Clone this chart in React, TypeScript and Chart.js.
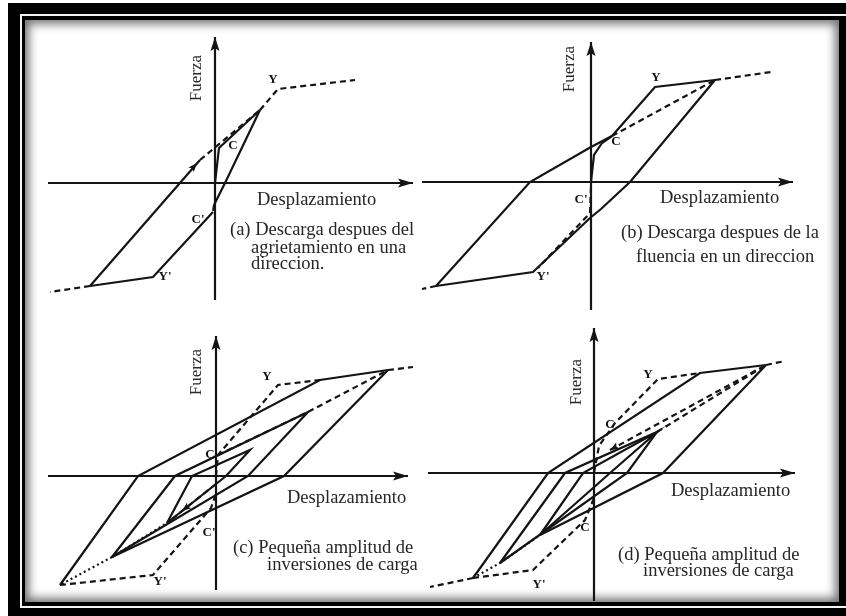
import React, { useEffect, useRef } from "react";
import { Chart, registerables } from "chart.js";

Chart.register(...registerables);

type Pt = [number, number];
type PanelId = "a" | "b" | "c" | "d";

// ---------------- data (panel-local units: displacement, force) ----------------
// Panel (a)
const A_AXIS_X: Pt[] = [[-167, 0], [198, 0]];
const A_AXIS_Y: Pt[] = [[0, -117], [0, 146]];
const A_LOAD: Pt[] = [[0, 0], [4, 35], [45, 73]];
const A_UNLOAD: Pt[] = [[45, 73], [10, 0], [-1, -22]];
const A_CRACK_NEG: Pt[] = [[-1, -22], [-2, -29]];
const A_NEG: Pt[] = [[-2, -29], [-62, -94], [-125, -103]];
const A_ENV_NEG: Pt[] = [[-125, -103], [-165, -109]];
const A_RELOAD: Pt[] = [[-125, -103], [-15, 23]];
const A_RELOAD_D: Pt[] = [[-15, 23], [45, 73]];
const A_ENV_POS: Pt[] = [[45, 73], [63, 94], [140, 103]];

// Panel (b)
const B_AXIS_X: Pt[] = [[-169, 0], [202, 0]];
const B_AXIS_Y: Pt[] = [[0, -128], [0, 140]];
const B_LOAD: Pt[] = [[0, 0], [3, 27], [11, 39], [21, 46]];
const B_C_PEAK: Pt[] = [[21, 46], [124, 102]];
const B_C_Y_PEAK: Pt[] = [[21, 46], [64, 95], [124, 102]];
const B_ENV_POS: Pt[] = [[124, 102], [180, 110]];
const B_UNLOAD: Pt[] = [[124, 102], [39, 0], [10, -27], [-1, -36], [-58, -90], [-155, -104]];
const B_ENV_NEG: Pt[] = [[-155, -104], [-169, -107]];
const B_RELOAD: Pt[] = [[-155, -104], [-61, 0], [0, 35], [21, 46]];
const B_NEG_INIT: Pt[] = [[0, -5], [-1, -31], [-53, -86]];

// Panel (c)
const C_AXIS_X: Pt[] = [[-168, 0], [192, 0]];
const C_AXIS_Y: Pt[] = [[0, -114], [0, 140]];
const C_OUTER_UP: Pt[] = [[-156, -109], [-78, 0], [104, 96], [172, 106]];
const C_ENV_POS: Pt[] = [[172, 106], [197, 109]];
const C_OUTER_DOWN: Pt[] = [[172, 106], [68, 0], [-104, -81]];
const C_DOT_1: Pt[] = [[-104, -81], [-156, -109]];
const C_ENV_NEG: Pt[] = [[-156, -109], [-63, -99], [-5, -32], [0, -18]];
const C_INIT: Pt[] = [[0, 0], [2, 21], [62, 91], [104, 96]];
const C_C_PEAKS: Pt[] = [[2, 21], [92, 64], [172, 106]];
const C_MID: Pt[] = [[-104, -81], [-41, 0], [92, 64], [32, 0], [-104, -81]];
const C_INNER: Pt[] = [[-49, -47], [-24, 0], [34, 26], [10, 0], [-49, -47]];
const C_DOT_2: Pt[] = [[-104, -81], [-49, -47]];
const C_ARROW: Pt[] = [[0, -8], [-49, -47]];

// Panel (d)
const D_AXIS_X: Pt[] = [[-166, 0], [201, 0]];
const D_AXIS_Y: Pt[] = [[0, -128], [0, 145]];
const D_OUTER_UP: Pt[] = [[-121, -105], [-46, 0], [106, 100], [172, 108]];
const D_ENV_POS: Pt[] = [[172, 108], [191, 112]];
const D_ENV_NEG: Pt[] = [[-121, -105], [-164, -114]];
const D_NEG_INIT: Pt[] = [[-121, -105], [-61, -97], [-9, -47], [0, -25]];
const D_INIT: Pt[] = [[0, 0], [5, 27], [21, 50], [64, 94], [106, 100]];
const D_RELOAD_1: Pt[] = [[16, 23], [172, 108]];
const D_RELOAD_2: Pt[] = [[63, 41], [172, 108]];
const D_OUTER_DOWN: Pt[] = [[172, 108], [69, 0], [-54, -62]];
const D_MID: Pt[] = [[-94, -90], [-29, 0], [63, 41], [33, 0], [-94, -90]];
const D_INNER: Pt[] = [[-54, -62], [-11, 0], [63, 41], [16, 0], [-54, -62]];
const D_DOT: Pt[] = [[-121, -105], [-94, -90], [-54, -62]];

// Texts
const AXIS_Y_TITLE = "Fuerza";
const AXIS_X_TITLE = "Desplazamiento";
const CAPTION_A = ["(a) Descarga despues del", "agrietamiento en una", "direccion."];
const CAPTION_B = ["(b) Descarga despues de la", "fluencia en un direccion"];
const CAPTION_C = ["(c) Pequeña amplitud de", "inversiones de carga"];
const CAPTION_D = ["(d) Pequeña amplitud de", "inversiones de carga"];

// ---------------- layout (page pixel of each panel's origin) ----------------
const W = 846;
const H = 616;
const ORIGIN: Record<PanelId, [number, number]> = {
  a: [215, 183],
  b: [591, 182],
  c: [216, 476],
  d: [594, 473],
};

type Style = "solid" | "dash" | "dot";
type LineSpec = { p: PanelId; pts: Pt[]; s: Style };

const LINES: LineSpec[] = [
  { p: "a", pts: A_AXIS_X, s: "solid" },
  { p: "a", pts: A_AXIS_Y, s: "solid" },
  { p: "a", pts: A_LOAD, s: "solid" },
  { p: "a", pts: A_UNLOAD, s: "solid" },
  { p: "a", pts: A_CRACK_NEG, s: "dash" },
  { p: "a", pts: A_NEG, s: "solid" },
  { p: "a", pts: A_ENV_NEG, s: "dash" },
  { p: "a", pts: A_RELOAD, s: "solid" },
  { p: "a", pts: A_RELOAD_D, s: "dash" },
  { p: "a", pts: A_ENV_POS, s: "dash" },

  { p: "b", pts: B_AXIS_X, s: "solid" },
  { p: "b", pts: B_AXIS_Y, s: "solid" },
  { p: "b", pts: B_LOAD, s: "solid" },
  { p: "b", pts: B_C_PEAK, s: "dash" },
  { p: "b", pts: B_C_Y_PEAK, s: "solid" },
  { p: "b", pts: B_ENV_POS, s: "dash" },
  { p: "b", pts: B_UNLOAD, s: "solid" },
  { p: "b", pts: B_ENV_NEG, s: "dash" },
  { p: "b", pts: B_RELOAD, s: "solid" },
  { p: "b", pts: B_NEG_INIT, s: "dash" },

  { p: "c", pts: C_AXIS_X, s: "solid" },
  { p: "c", pts: C_AXIS_Y, s: "solid" },
  { p: "c", pts: C_OUTER_UP, s: "solid" },
  { p: "c", pts: C_ENV_POS, s: "dash" },
  { p: "c", pts: C_OUTER_DOWN, s: "solid" },
  { p: "c", pts: C_DOT_1, s: "dot" },
  { p: "c", pts: C_ENV_NEG, s: "dash" },
  { p: "c", pts: C_INIT, s: "dash" },
  { p: "c", pts: C_C_PEAKS, s: "dash" },
  { p: "c", pts: C_MID, s: "solid" },
  { p: "c", pts: C_INNER, s: "solid" },
  { p: "c", pts: C_DOT_2, s: "dot" },
  { p: "c", pts: C_ARROW, s: "dash" },

  { p: "d", pts: D_AXIS_X, s: "solid" },
  { p: "d", pts: D_AXIS_Y, s: "solid" },
  { p: "d", pts: D_OUTER_UP, s: "solid" },
  { p: "d", pts: D_ENV_POS, s: "dash" },
  { p: "d", pts: D_ENV_NEG, s: "dash" },
  { p: "d", pts: D_NEG_INIT, s: "dash" },
  { p: "d", pts: D_INIT, s: "dash" },
  { p: "d", pts: D_RELOAD_1, s: "dash" },
  { p: "d", pts: D_RELOAD_2, s: "dash" },
  { p: "d", pts: D_OUTER_DOWN, s: "solid" },
  { p: "d", pts: D_MID, s: "solid" },
  { p: "d", pts: D_INNER, s: "solid" },
  { p: "d", pts: D_DOT, s: "dot" },
];

type ArrowSpec = { p: PanelId; tip: Pt; from: Pt; len: number; half: number };
const last = (a: Pt[]) => a[a.length - 1];
const ARROWS: ArrowSpec[] = [
  { p: "a", tip: last(A_AXIS_X), from: A_AXIS_X[0], len: 15, half: 4.5 },
  { p: "a", tip: last(A_AXIS_Y), from: A_AXIS_Y[0], len: 14, half: 4.5 },
  { p: "b", tip: last(B_AXIS_X), from: B_AXIS_X[0], len: 15, half: 4.5 },
  { p: "b", tip: last(B_AXIS_Y), from: B_AXIS_Y[0], len: 14, half: 4.5 },
  { p: "c", tip: last(C_AXIS_X), from: C_AXIS_X[0], len: 15, half: 4.5 },
  { p: "c", tip: last(C_AXIS_Y), from: C_AXIS_Y[0], len: 14, half: 4.5 },
  { p: "d", tip: last(D_AXIS_X), from: D_AXIS_X[0], len: 15, half: 4.5 },
  { p: "d", tip: last(D_AXIS_Y), from: D_AXIS_Y[0], len: 14, half: 4.5 },
  { p: "a", tip: [-18, 20], from: A_RELOAD[0], len: 9, half: 3.5 },
  { p: "c", tip: [-34, -35], from: C_ARROW[0], len: 9, half: 3.5 },
  { p: "d", tip: D_RELOAD_1[0], from: D_RELOAD_1[1], len: 9, half: 3.5 },
];

type TextSpec = { p: PanelId; t: string; at: Pt; kind: "title" | "cap" | "mark" | "vtitle" };
const TEXTS: TextSpec[] = [
  { p: "a", t: AXIS_Y_TITLE, at: [-18, 105], kind: "vtitle" },
  { p: "a", t: AXIS_X_TITLE, at: [42, -17], kind: "title" },
  { p: "a", t: CAPTION_A[0], at: [15, -47], kind: "cap" },
  { p: "a", t: CAPTION_A[1], at: [36, -65], kind: "cap" },
  { p: "a", t: CAPTION_A[2], at: [36, -81], kind: "cap" },
  { p: "a", t: "Y", at: [58, 103], kind: "mark" },
  { p: "a", t: "Y'", at: [-50, -94], kind: "mark" },
  { p: "a", t: "C", at: [18, 37], kind: "mark" },
  { p: "a", t: "C'", at: [-17, -37], kind: "mark" },

  { p: "b", t: AXIS_Y_TITLE, at: [-21, 113], kind: "vtitle" },
  { p: "b", t: AXIS_X_TITLE, at: [69, -16], kind: "title" },
  { p: "b", t: CAPTION_B[0], at: [30, -51], kind: "cap" },
  { p: "b", t: CAPTION_B[1], at: [45, -75], kind: "cap" },
  { p: "b", t: "Y", at: [65, 104], kind: "mark" },
  { p: "b", t: "C", at: [25, 40], kind: "mark" },
  { p: "b", t: "C'", at: [-10, -18], kind: "mark" },
  { p: "b", t: "Y'", at: [-48, -95], kind: "mark" },

  { p: "c", t: AXIS_Y_TITLE, at: [-19, 104], kind: "vtitle" },
  { p: "c", t: AXIS_X_TITLE, at: [71, -22], kind: "title" },
  { p: "c", t: CAPTION_C[0], at: [17, -72], kind: "cap" },
  { p: "c", t: CAPTION_C[1], at: [51, -89], kind: "cap" },
  { p: "c", t: "Y", at: [51, 99], kind: "mark" },
  { p: "c", t: "Y'", at: [-56, -106], kind: "mark" },
  { p: "c", t: "C", at: [-6, 21], kind: "mark" },
  { p: "c", t: "C'", at: [-7, -57], kind: "mark" },

  { p: "d", t: AXIS_Y_TITLE, at: [-17, 91], kind: "vtitle" },
  { p: "d", t: AXIS_X_TITLE, at: [77, -18], kind: "title" },
  { p: "d", t: CAPTION_D[0], at: [24, -82], kind: "cap" },
  { p: "d", t: CAPTION_D[1], at: [49, -98], kind: "cap" },
  { p: "d", t: "Y", at: [54, 98], kind: "mark" },
  { p: "d", t: "Y'", at: [-55, -112], kind: "mark" },
  { p: "d", t: "C", at: [16, 48], kind: "mark" },
  { p: "d", t: "C", at: [-9, -55], kind: "mark" },
];

const INK = "#141414";
const SERIF = "'Liberation Serif', 'DejaVu Serif', serif";

const overlayPlugin = {
  id: "overlay",
  afterDatasetsDraw(chart: any) {
    const ctx: CanvasRenderingContext2D = chart.ctx;
    const toPx = (p: PanelId, pt: Pt): [number, number] => [
      chart.scales["x" + p].getPixelForValue(pt[0]),
      chart.scales["y" + p].getPixelForValue(pt[1]),
    ];
    ctx.save();
    ctx.fillStyle = INK;
    for (const a of ARROWS) {
      const [tx, ty] = toPx(a.p, a.tip);
      const [fx, fy] = toPx(a.p, a.from);
      const ang = Math.atan2(ty - fy, tx - fx);
      ctx.save();
      ctx.translate(tx, ty);
      ctx.rotate(ang);
      ctx.beginPath();
      ctx.moveTo(0, 0);
      ctx.lineTo(-a.len, -a.half);
      ctx.lineTo(-a.len * 0.8, 0);
      ctx.lineTo(-a.len, a.half);
      ctx.closePath();
      ctx.fill();
      ctx.restore();
    }
    ctx.textBaseline = "middle";
    for (const t of TEXTS) {
      const [x, y] = toPx(t.p, t.at);
      ctx.save();
      if (t.kind === "vtitle") {
        ctx.font = `17px ${SERIF}`;
        ctx.fillStyle = "#2a2a2a";
        ctx.translate(x, y);
        ctx.rotate(-Math.PI / 2);
        ctx.textAlign = "center";
        ctx.fillText(t.t, 0, 0);
      } else if (t.kind === "mark") {
        ctx.font = `bold 13px ${SERIF}`;
        ctx.textAlign = "center";
        ctx.fillText(t.t, x, y);
      } else {
        ctx.font = `18.5px ${SERIF}`;
        ctx.fillStyle = "#262626";
        ctx.textAlign = "left";
        ctx.fillText(t.t, x, y);
      }
      ctx.restore();
    }
    ctx.restore();
  },
};

function buildScales() {
  const scales: any = {};
  (Object.keys(ORIGIN) as PanelId[]).forEach((p) => {
    const [ox, oy] = ORIGIN[p];
    scales["x" + p] = { type: "linear", display: false, min: -ox, max: W - ox };
    scales["y" + p] = { type: "linear", display: false, min: oy - H, max: oy };
  });
  return scales;
}

function buildDatasets() {
  return LINES.map((l) => ({
    data: l.pts.map(([x, y]) => ({ x, y })),
    showLine: true,
    borderColor: INK,
    backgroundColor: INK,
    borderWidth: 2.2,
    borderDash: l.s === "dash" ? [6, 4] : l.s === "dot" ? [2, 3] : [],
    pointRadius: 0,
    tension: 0,
    fill: false,
    clip: false,
    xAxisID: "x" + l.p,
    yAxisID: "y" + l.p,
  }));
}

export default function App() {
  const ref = useRef<HTMLCanvasElement | null>(null);
  useEffect(() => {
    if (!ref.current) return;
    const chart = new Chart(ref.current, {
      type: "scatter",
      data: { datasets: buildDatasets() as any },
      options: {
        responsive: false,
        animation: false,
        devicePixelRatio: 1,
        events: [],
        layout: { padding: 0 },
        plugins: {
          legend: { display: false },
          tooltip: { enabled: false },
          title: { display: false },
        },
        scales: buildScales(),
      } as any,
      plugins: [overlayPlugin],
    });
    return () => chart.destroy();
  }, []);

  return (
    <div
      style={{
        position: "fixed",
        left: 0,
        top: 0,
        width: W,
        height: H,
        background: "#fff",
        overflow: "hidden",
      }}
    >
      <div style={{ position: "absolute", left: 8, top: 3, width: 838, height: 613, background: "#000" }} />
      <div
        style={{
          position: "absolute",
          left: 20,
          top: 14,
          width: 840,
          height: 594,
          border: "2px solid #f4f4f4",
          boxSizing: "border-box",
        }}
      />
      <div
        style={{
          position: "absolute",
          left: 25,
          top: 20,
          width: 814,
          height: 582,
          background: "#fff",
          boxShadow: "inset 0 0 10px 4px rgba(0,0,0,0.55)",
        }}
      />
      <canvas
        ref={ref}
        width={W}
        height={H}
        style={{ position: "absolute", left: 0, top: 0, width: W, height: H }}
      />
    </div>
  );
}
